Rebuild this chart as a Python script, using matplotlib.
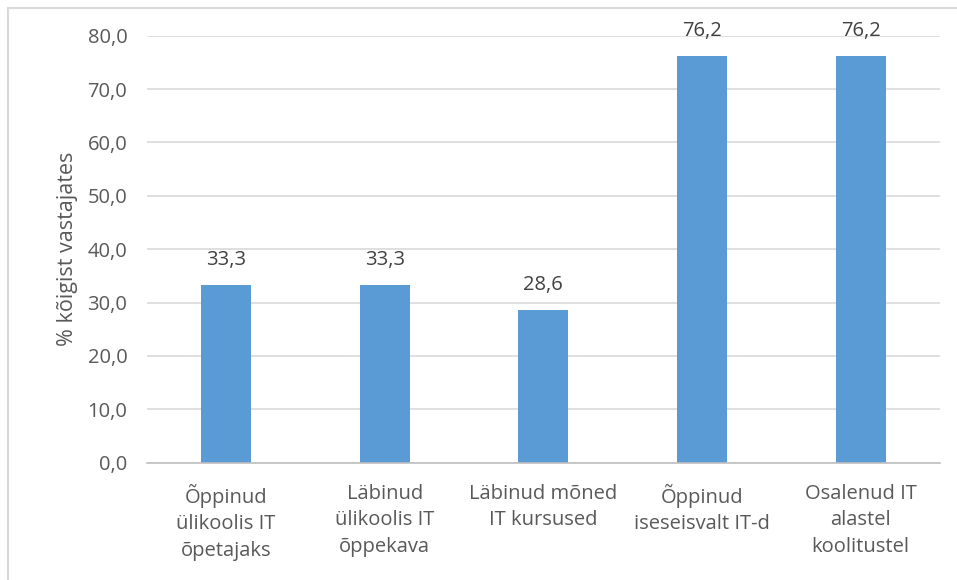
import matplotlib
matplotlib.use("Agg")
import matplotlib.pyplot as plt
from matplotlib.patches import Rectangle

categories = ["Õppinud\nülikoolis IT\nõpetajaks",
              "Läbinud\nülikoolis IT\nõppekava",
              "Läbinud mõned\nIT kursused",
              "Õppinud\niseseisvalt IT-d",
              "Osalenud IT\nalastel\nkoolitustel"]
values = [33.3, 33.3, 28.6, 76.2, 76.2]
yticks = [0, 10, 20, 30, 40, 50, 60, 70, 80]
ylabel = "% kõigist vastajates"

plt.rcParams['font.family'] = ['Open Sans', 'DejaVu Sans']
txt = "#595959"
fs = 14.5

fig = plt.figure(figsize=(9.57, 5.80), dpi=100)
ax = fig.add_axes([146.7/957, 1-462.7/580, (940-146.7)/957, (462.7-35.7)/580])

x = list(range(len(values)))
bars = ax.bar(x, values, width=0.316, color="#5B9BD5", zorder=3)
for xi, v in zip(x, values):
    ax.annotate(f"{v:.1f}".replace(".", ","), (xi, v), xytext=(0, 14.4),
                textcoords="offset points", ha="center", va="baseline",
                fontsize=fs, color="#404040")

ax.set_xlim(-0.5, len(values) - 0.5)
ax.set_ylim(0, 80)
ax.set_yticks(yticks)
ax.set_yticklabels([f"{t:.1f}".replace(".", ",") for t in yticks], fontsize=fs, color=txt)
ax.set_xticks(x)
ax.set_xticklabels(categories, fontsize=fs, color=txt, linespacing=1.45)
ax.tick_params(axis="both", length=0)
ax.tick_params(axis="y", pad=14)
ax.tick_params(axis="x", pad=15)
ax.grid(axis="y", color="#D9D9D9", linewidth=1.2, zorder=0)
for s in ["top", "right", "left"]:
    ax.spines[s].set_visible(False)
ax.spines["bottom"].set_color("#BFBFBF")
ax.spines["bottom"].set_linewidth(1.2)
ax.spines["bottom"].set_zorder(4)
ax.set_ylabel(ylabel, fontsize=fs + 1, color=txt, labelpad=7)

fig.patches.append(Rectangle((8/957, -0.1), 1.2, 1 - 8/580 + 0.1, transform=fig.transFigure,
                             fill=False, edgecolor="#D9D9D9", linewidth=1.5))

fig.savefig("out.png", dpi=100)
